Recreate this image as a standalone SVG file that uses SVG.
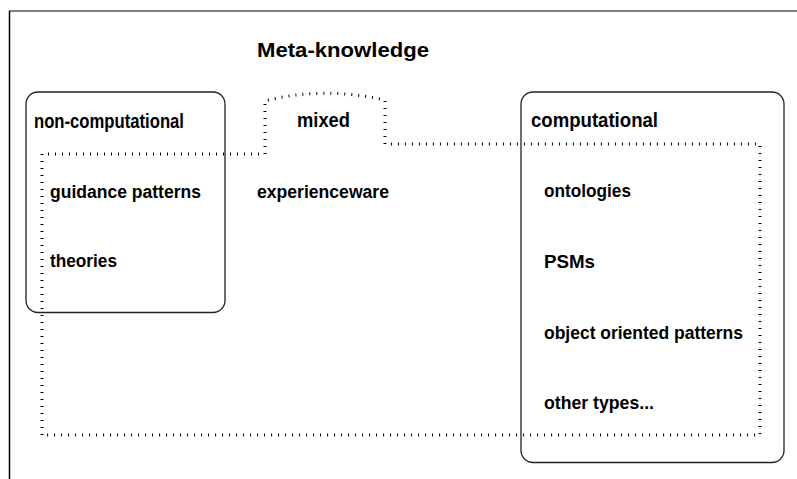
<svg xmlns="http://www.w3.org/2000/svg" width="797" height="479" viewBox="0 0 797 479">
<style>
  text { font-family: "Liberation Sans", Arial, sans-serif; font-weight: bold; fill: #000; }
  .h { font-size: 19.5px; }
  .t { font-size: 20.5px; }
  .i { font-size: 17.5px; }
  .box { fill: none; stroke: #222; stroke-width: 1.3; }
  .dot { fill: none; stroke: #000; stroke-width: 3; stroke-dasharray: 1 6; }
</style>
<rect x="0" y="0" width="797" height="479" fill="#fff"/>
<g id="frame">
  <line x1="9" y1="11" x2="797" y2="11" stroke="#808080" stroke-width="2"/>
  <line x1="9.5" y1="11" x2="9.5" y2="479" stroke="#000" stroke-width="1.5"/>
</g>
<g id="title">
  <text class="t" x="257" y="57" textLength="172" lengthAdjust="spacingAndGlyphs">Meta-knowledge</text>
</g>
<g id="mixed">
  <path class="dot" d="M42,435 L42,154 L265,154 L265,101 Q322,86 385,100 L385,144 L760,144 L760,435 Z"/>
  <text class="h" x="297" y="127" textLength="53" lengthAdjust="spacingAndGlyphs">mixed</text>
  <text class="i" x="257" y="198" textLength="132" lengthAdjust="spacingAndGlyphs">experienceware</text>
</g>
<g id="non-computational">
  <rect class="box" x="26" y="92" width="199" height="220.5" rx="12"/>
  <text class="h" x="34" y="128" textLength="150" lengthAdjust="spacingAndGlyphs">non-computational</text>
  <text class="i" x="50" y="198" textLength="151" lengthAdjust="spacingAndGlyphs">guidance patterns</text>
  <text class="i" x="50" y="267" textLength="67" lengthAdjust="spacingAndGlyphs">theories</text>
</g>
<g id="computational">
  <rect class="box" x="521" y="92" width="263" height="370.5" rx="12"/>
  <text class="h" x="531" y="127" textLength="127" lengthAdjust="spacingAndGlyphs">computational</text>
  <text class="i" x="544" y="197" textLength="87" lengthAdjust="spacingAndGlyphs">ontologies</text>
  <text class="i" x="544" y="268" textLength="51" lengthAdjust="spacingAndGlyphs">PSMs</text>
  <text class="i" x="544" y="339" textLength="199" lengthAdjust="spacingAndGlyphs">object oriented patterns</text>
  <text class="i" x="544" y="409" textLength="110" lengthAdjust="spacingAndGlyphs">other types...</text>
</g>
</svg>
